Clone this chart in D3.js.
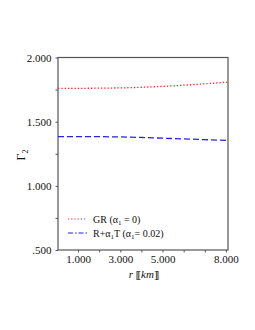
<!DOCTYPE html>
<html><head><meta charset="utf-8">
<script src="https://cdn.jsdelivr.net/npm/d3@7"></script>
<style>body{margin:0;background:#fff}svg{display:block}text{font-family:"Liberation Serif","DejaVu Serif",serif}</style>
</head><body><svg id="c" width="255" height="330"></svg>
<script>
const rValues = [0.05, 1, 2, 3, 4, 5, 6, 7, 8.1];
const grValues = [1.760, 1.760, 1.761, 1.763, 1.768, 1.775, 1.784, 1.795, 1.808];
const rtValues = [1.384, 1.384, 1.383, 1.381, 1.377, 1.371, 1.366, 1.360, 1.354];
const xTicks = [1, 3, 5, 8];
const xTickLabels = ["1.000", "3.000", "5.000", "8.000"];
const yTicks = [0.5, 1.0, 1.5, 2.0];
const yTickLabels = [".500", "1.000", "1.500", "2.000"];
const legendLabels = ["GR (α", "R+α"];

const svg = d3.select("#c");
const L = 58, R = 228, T = 57.5, B = 250;
const x = d3.scaleLinear().domain([0.05, 8.1]).range([L, R]);
const y = d3.scaleLinear().domain([0.5, 2.0]).range([B, T]);

// frame
svg.append("rect").attr("x", L).attr("y", T).attr("width", R - L).attr("height", B - T)
  .attr("fill", "none").attr("stroke", "#555").attr("stroke-width", 1.2);

// axes
const xa = svg.append("g").attr("transform", `translate(0,${B})`)
  .call(d3.axisBottom(x).tickValues(d3.range(1, 9)).tickSize(2.5).tickPadding(2).tickFormat(d => {
    const i = xTicks.indexOf(d); return i >= 0 ? xTickLabels[i] : "";
  }));
const ya = svg.append("g").attr("transform", `translate(${L},0)`)
  .call(d3.axisLeft(y).tickValues(d3.range(0.5, 2.01, 0.25)).tickSize(2.5).tickFormat(d => {
    const i = yTicks.findIndex(v => Math.abs(v - d) < 1e-6); return i >= 0 ? yTickLabels[i] : "";
  }));
[xa, ya].forEach(g => {
  g.select(".domain").remove();
  g.selectAll("line").attr("stroke", "#555");
  g.selectAll("text").attr("font-size", 11).attr("fill", "#111").attr("font-family", "Liberation Serif, serif");
});
xa.selectAll("text").attr("dy", "0.8em");
ya.selectAll("text").attr("dx", "-1px");

// lines
const pts = vals => rValues.map((r, i) => [x(r), y(vals[i])]);
const line = d3.line().curve(d3.curveMonotoneX);
svg.append("path").attr("d", line(pts(grValues))).attr("fill", "none")
  .attr("stroke", "#f22").attr("stroke-width", 1.3).attr("stroke-dasharray", "1.3,2");
svg.append("path").attr("d", line(pts(rtValues))).attr("fill", "none")
  .attr("stroke", "#22e").attr("stroke-width", 1.3).attr("stroke-dasharray", "6,3");

// legend
const lg = svg.append("g");
lg.append("line").attr("x1", 68).attr("x2", 87).attr("y1", 219).attr("y2", 219)
  .attr("stroke", "#f22").attr("stroke-width", 1.1).attr("stroke-dasharray", "1.2,2");
lg.append("line").attr("x1", 68).attr("x2", 87).attr("y1", 233).attr("y2", 233)
  .attr("stroke", "#22e").attr("stroke-width", 1.1).attr("stroke-dasharray", "5,2,1.5,2");
const t1 = lg.append("text").attr("x", 93).attr("y", 222.5).attr("font-size", 10).attr("fill", "#111");
t1.append("tspan").text(legendLabels[0]);
t1.append("tspan").attr("font-size", 7).attr("dy", 2.5).text("1");
t1.append("tspan").attr("dy", -2.5).text(" = 0)");
const t2 = lg.append("text").attr("x", 93).attr("y", 236.5).attr("font-size", 10).attr("fill", "#111");
t2.append("tspan").text(legendLabels[1]);
t2.append("tspan").attr("font-size", 7).attr("dy", 2.5).text("1");
t2.append("tspan").attr("dy", -2.5).text("T (α");
t2.append("tspan").attr("font-size", 7).attr("dy", 2.5).text("1");
t2.append("tspan").attr("dy", -2.5).text("= 0.02)");

// axis titles
const xt = svg.append("text").attr("x", 143).attr("y", 278).attr("text-anchor", "middle")
  .attr("font-size", 11).attr("fill", "#111");
xt.append("tspan").attr("font-style", "italic").text("r ");
xt.append("tspan").attr("letter-spacing", -2).text("[[");
xt.append("tspan").attr("dx", 2).attr("font-style", "italic").text("km");
xt.append("tspan").attr("letter-spacing", -2).text("]]");

const yt = svg.append("text").attr("transform", "translate(25,155) rotate(-90)")
  .attr("text-anchor", "middle").attr("font-size", 12).attr("fill", "#111");
yt.append("tspan").text("Γ");
yt.append("tspan").attr("font-size", 8).attr("dy", 3).text("2");
</script></body></html>
